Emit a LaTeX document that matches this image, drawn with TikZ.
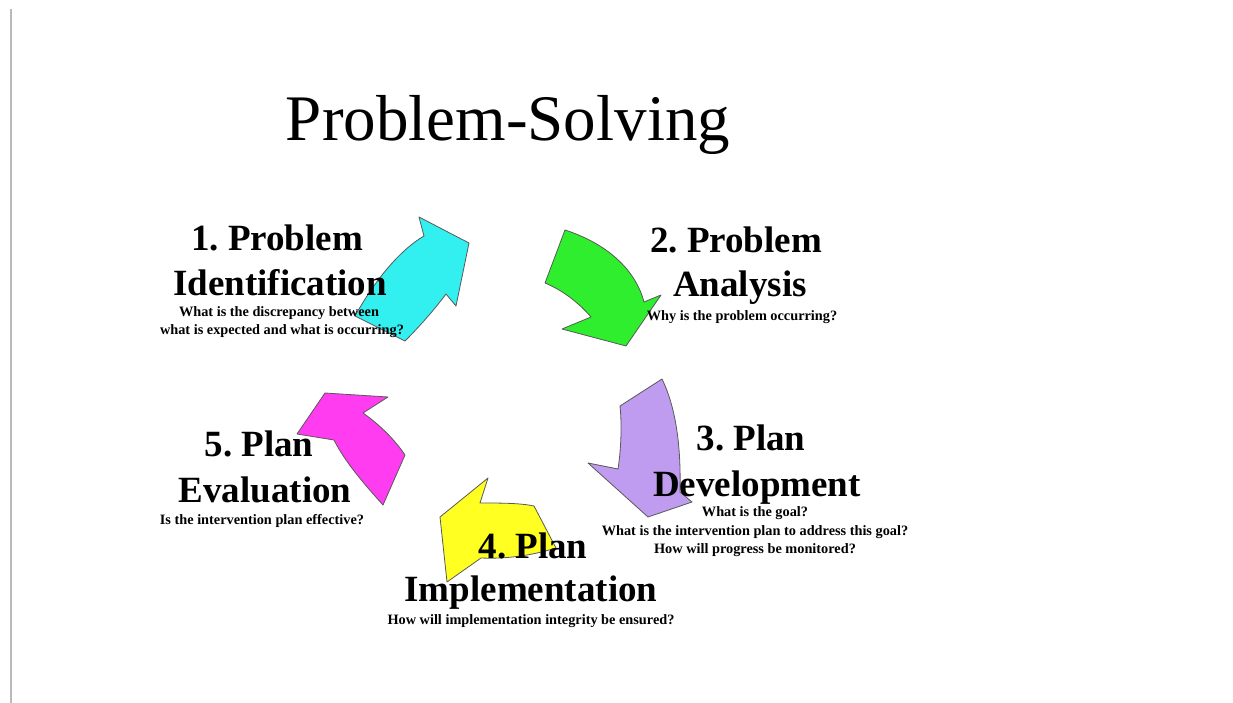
\documentclass[tikz,border=0pt]{standalone}
\usepackage{fontspec}
\setmainfont{Liberation Serif}
\frenchspacing
\definecolor{cyanA}{HTML}{33F0F0}
\definecolor{greenA}{HTML}{2EEE2E}
\definecolor{purpleA}{HTML}{C09CF0}
\definecolor{magA}{HTML}{FF3CF0}
\definecolor{yelA}{HTML}{FFFF22}
\tikzset{
  arr/.style={draw=black!65, line width=0.8pt, line join=round},
  title/.style={inner sep=0pt, anchor=base, font=\fontsize{65}{70}\selectfont},
  head/.style={inner sep=0pt, anchor=base, font=\fontsize{37}{42}\selectfont\bfseries},
  small/.style={inner sep=0pt, anchor=base, font=\fontsize{14.3}{17}\selectfont\bfseries}
}
\begin{document}
\begin{tikzpicture}[x=1pt,y=-1pt]
\useasboundingbox (0,0) rectangle (1233,703);
\fill[white] (0,0) rectangle (1233,703);
\draw[gray!55, line width=1.5pt] (11,9) -- (11,703);

% arrows
\filldraw[arr, fill=cyanA] (355,316) .. controls (375,280) and (400,250) .. (424,236) -- (419,217) -- (469,243) -- (456,306) -- (446,294) .. controls (434,310) and (420,326) .. (405,341) -- cycle;
\filldraw[arr, fill=greenA] (565,230) .. controls (605,243) and (635,268) .. (644,302) -- (661,295) -- (626,346) -- (562,329) -- (591,317) .. controls (578,302) and (562,290) .. (545,283) -- cycle;
\filldraw[arr, fill=purpleA] (662,379) -- (620,406) .. controls (622,425) and (621,450) .. (618,469) -- (588,463) -- (648,517) -- (692,502) -- (680,492) .. controls (681,450) and (677,410) .. (662,379) -- cycle;
\filldraw[arr, fill=magA] (325,393) -- (388,397) -- (363,413) .. controls (380,425) and (395,440) .. (405,455) -- (383,505) .. controls (365,485) and (345,462) .. (334,440) -- (297,434) -- cycle;
\filldraw[arr, fill=yelA] (440,517) -- (488,478) -- (480,503) .. controls (500,503) and (520,503) .. (534,506) -- (556,548) .. controls (530,556) and (505,559) .. (481,558) -- (447,582) -- cycle;

% texts
\node[title] (t) at (508,141) {Problem-Solving};

\node[head] (a1) at (277,251) {1. Problem};
\node[head] (a2) at (280,295) {Identification};
\node[small] (a3) at (279,316) {What is the discrepancy between};
\node[small] (a4) at (282,334) {what is expected and what is occurring?};

\node[head] (b1) at (736,253) {2. Problem};
\node[head] (b2) at (740,296) {Analysis};
\node[small] (b3) at (742,320) {Why is the problem occurring?};

\node[head] (c1) at (751,450) {3. Plan};
\node[head] (c2) at (757,496) {Development};
\node[small] (c3) at (755,516) {What is the goal?};
\node[small] (c4) at (755,535) {What is the intervention plan to address this goal?};
\node[small] (c5) at (755,553) {How will progress be monitored?};

\node[head] (d1) at (533,558) {4. Plan};
\node[head] (d2) at (531,601) {Implementation};
\node[small] (d3) at (531,624) {How will implementation integrity be ensured?};

\node[head] (e1) at (259,456) {5. Plan};
\node[head] (e2) at (265,502) {Evaluation};
\node[small] (e3) at (262,524) {Is the intervention plan effective?};
\end{tikzpicture}
\end{document}
